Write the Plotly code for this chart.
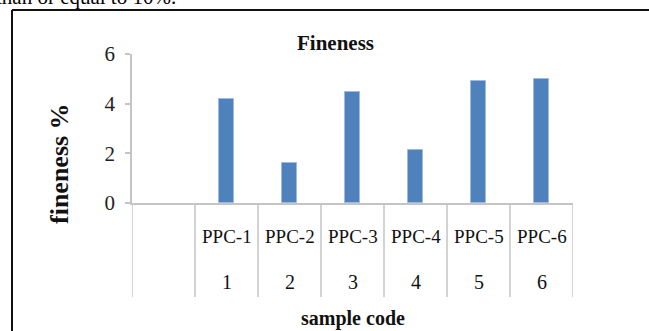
import plotly.graph_objects as go

# ---- data ----
sample_names = ["", "PPC-1", "PPC-2", "PPC-3", "PPC-4", "PPC-5", "PPC-6"]
sample_numbers = ["", "1", "2", "3", "4", "5", "6"]
fineness = [None, 4.2, 1.6, 4.45, 2.15, 4.9, 5.0]
y_ticks = [0, 2, 4, 6]

W, H = 649, 331
L, R, T, B = 132, 573, 54, 203  # plot area in pixels


def px(x):
    return (x - L) / (R - L)


def py(y):
    return (B - y) / (B - T)


FONT = "Liberation Serif, Times New Roman, serif"
TXT = "#111111"
GRID = "#c4c4c4"

idx = list(range(len(sample_names)))

fig = go.Figure()
fig.add_trace(go.Bar(
    x=idx, y=fineness, width=0.25,
    marker=dict(color="#4f81bd", line=dict(color="#9dbbe0", width=1)),
    showlegend=False, hoverinfo="skip",
))

shapes = []
# table-like category dividers below the axis
for k in range(len(sample_names) + 1):
    shapes.append(dict(type="line", xref="x", yref="paper",
                       x0=k - 0.5, x1=k - 0.5, y0=0, y1=py(297),
                       line=dict(color=GRID, width=1.5)))
# outer frame of the screenshot
shapes.append(dict(type="line", xref="paper", yref="paper",
                   x0=px(12), x1=px(W + 5), y0=py(10), y1=py(10),
                   line=dict(color="#111111", width=2)))
shapes.append(dict(type="line", xref="paper", yref="paper",
                   x0=px(12), x1=px(12), y0=py(10), y1=py(H + 5),
                   line=dict(color="#111111", width=2)))

annotations = []
for i, (nm, no) in enumerate(zip(sample_names, sample_numbers)):
    if nm:
        annotations.append(dict(x=i, y=py(236), xref="x", yref="paper",
                                text=nm, showarrow=False,
                                font=dict(family=FONT, size=19, color=TXT),
                                xanchor="center", yanchor="middle"))
    if no:
        annotations.append(dict(x=i, y=py(282), xref="x", yref="paper",
                                text=no, showarrow=False,
                                font=dict(family=FONT, size=20, color=TXT),
                                xanchor="center", yanchor="middle"))

annotations += [
    dict(x=px(335), y=py(43), xref="paper", yref="paper", text="<b>Fineness</b>",
         showarrow=False, font=dict(family=FONT, size=21, color=TXT),
         xanchor="center", yanchor="middle"),
    dict(x=px(59), y=py(164), xref="paper", yref="paper", text="<b>fineness %</b>",
         showarrow=False, textangle=-90, font=dict(family=FONT, size=26, color=TXT),
         xanchor="center", yanchor="middle"),
    dict(x=px(353), y=py(318), xref="paper", yref="paper", text="<b>sample code</b>",
         showarrow=False, font=dict(family=FONT, size=20, color=TXT),
         xanchor="center", yanchor="middle"),
    dict(x=px(-6), y=py(-3), xref="paper", yref="paper", text="than or equal to 10%.",
         showarrow=False, font=dict(family=FONT, size=21, color="#000000"),
         xanchor="left", yanchor="middle"),
]

fig.update_layout(
    width=W, height=H,
    margin=dict(l=L, r=W - R, t=T, b=H - B, pad=0),
    paper_bgcolor="white", plot_bgcolor="white",
    xaxis=dict(range=[-0.5, len(sample_names) - 0.5], showticklabels=False,
               ticks="", showgrid=False, zeroline=False,
               showline=True, linecolor=GRID, linewidth=1.5, fixedrange=True),
    yaxis=dict(range=[0, 6], tickvals=y_ticks, ticks="outside", ticklen=5,
               tickcolor=GRID, tickwidth=1.5, showgrid=False, zeroline=False,
               showline=True, linecolor=GRID, linewidth=1.5,
               tickfont=dict(family=FONT, size=21, color="#222222"),
               ticklabelstandoff=6, fixedrange=True),
    shapes=shapes, annotations=annotations,
    bargap=0,
)

fig.write_html("out.html", config={"displayModeBar": False})
